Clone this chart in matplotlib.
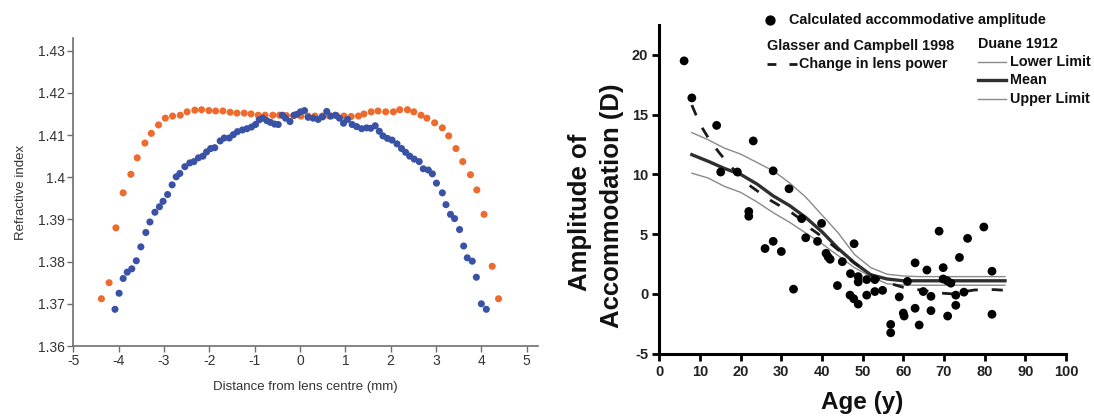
import matplotlib
matplotlib.use("Agg")
import matplotlib.pyplot as plt
from matplotlib.lines import Line2D
import numpy as np

plt.rcParams['font.family'] = ['Liberation Sans', 'DejaVu Sans']

# ---------------- Left panel: refractive index profiles ----------------
orange_x = [-4.38, -4.21, -4.06, -3.90, -3.73, -3.59, -3.42, -3.28, -3.12, -2.97,
            -2.81, -2.64, -2.49, -2.32, -2.17, -2.01, -1.86, -1.70, -1.54, -1.39,
            -1.23, -1.08, -0.92, -0.77, -0.60, -0.45, -0.30, -0.14, 0.02, 0.18,
            0.33, 0.49, 0.65, 0.81, 0.97, 1.13, 1.29, 1.41, 1.57, 1.72,
            1.89, 2.06, 2.20, 2.37, 2.51, 2.67, 2.80, 2.97, 3.14, 3.28,
            3.44, 3.59, 3.76, 3.90, 4.06, 4.24, 4.38]
orange_y = [1.3712, 1.3750, 1.3880, 1.3963, 1.4007, 1.4046, 1.4081, 1.4104, 1.4124, 1.4140,
            1.4145, 1.4147, 1.4155, 1.4159, 1.4160, 1.4158, 1.4157, 1.4157, 1.4154, 1.4152,
            1.4152, 1.4150, 1.4147, 1.4147, 1.4147, 1.4147, 1.4146, 1.4146, 1.4145, 1.4145,
            1.4145, 1.4145, 1.4145, 1.4146, 1.4145, 1.4144, 1.4145, 1.4150, 1.4155, 1.4157,
            1.4155, 1.4155, 1.4160, 1.4160, 1.4155, 1.4147, 1.4140, 1.4129, 1.4117, 1.4098,
            1.4068, 1.4037, 1.4006, 1.3970, 1.3912, 1.3789, 1.3712]

blue_x = [-4.08, -3.99, -3.90, -3.81, -3.71, -3.61, -3.51, -3.40, -3.31, -3.20,
          -3.10, -3.02, -2.92, -2.82, -2.73, -2.65, -2.54, -2.43, -2.34, -2.24,
          -2.14, -2.06, -1.97, -1.88, -1.76, -1.67, -1.56, -1.47, -1.38, -1.27,
          -1.17, -1.07, -0.98, -0.90, -0.82, -0.73, -0.65, -0.56, -0.48, -0.39,
          -0.32, -0.22, -0.13, -0.07, 0.01, 0.10, 0.18, 0.29, 0.40, 0.50,
          0.59, 0.68, 0.78, 0.87, 0.96, 1.05, 1.15, 1.25, 1.36, 1.47,
          1.56, 1.66, 1.75, 1.83, 1.93, 2.03, 2.14, 2.24, 2.33, 2.42,
          2.52, 2.63, 2.72, 2.83, 2.92, 3.01, 3.14, 3.22, 3.32, 3.41,
          3.52, 3.61, 3.69, 3.80, 3.89, 4.00, 4.11]
blue_y = [1.3687, 1.3725, 1.3760, 1.3775, 1.3783, 1.3802, 1.3835, 1.3869, 1.3894, 1.3917,
          1.3930, 1.3943, 1.3959, 1.3982, 1.4001, 1.4009, 1.4025, 1.4034, 1.4037, 1.4046,
          1.4050, 1.4060, 1.4068, 1.4070, 1.4086, 1.4093, 1.4093, 1.4101, 1.4108, 1.4112,
          1.4115, 1.4119, 1.4125, 1.4136, 1.4140, 1.4134, 1.4130, 1.4126, 1.4125, 1.4147,
          1.4140, 1.4132, 1.4147, 1.4149, 1.4155, 1.4158, 1.4142, 1.4140, 1.4137, 1.4143,
          1.4156, 1.4145, 1.4147, 1.4140, 1.4128, 1.4137, 1.4125, 1.4120, 1.4115, 1.4117,
          1.4116, 1.4122, 1.4109, 1.4098, 1.4092, 1.4088, 1.4079, 1.4068, 1.4059, 1.4050,
          1.4043, 1.4037, 1.4020, 1.4017, 1.4008, 1.3986, 1.3963, 1.3935, 1.3912, 1.3902,
          1.3876, 1.3837, 1.3809, 1.3801, 1.3763, 1.3700, 1.3687]

left_xticks = [-5, -4, -3, -2, -1, 0, 1, 2, 3, 4, 5]
left_yticks = [1.36, 1.37, 1.38, 1.39, 1.40, 1.41, 1.42, 1.43]
left_yticklabels = ['1.36', '1.37', '1.38', '1.39', '1.4', '1.41', '1.42', '1.43']

# ---------------- Right panel: amplitude of accommodation ----------------
calc_age = [6.1, 8.0, 14.1, 23.1, 15.1, 19.2, 28.0, 31.9, 22.0, 22.0,
            35.0, 39.9, 28.0, 26.0, 30.0, 36.0, 38.9, 41.0, 41.5, 42.0,
            45.0, 47.9, 33.0, 43.8, 47.0, 48.9, 48.9, 51.0, 53.0, 46.9,
            47.8, 48.9, 51.0, 53.0, 54.9, 59.0, 56.9, 56.9, 60.0, 60.2,
            61.0, 62.9, 62.9, 63.9, 64.9, 65.8, 66.8, 66.8, 68.8, 69.8,
            69.8, 70.8, 71.7, 70.9, 72.9, 72.9, 73.8, 74.9, 75.8, 79.8,
            81.8, 81.8]
calc_amp = [19.5, 16.4, 14.1, 12.8, 10.2, 10.2, 10.3, 8.8, 6.9, 6.5,
            6.3, 5.9, 4.4, 3.8, 3.55, 4.7, 4.4, 3.4, 3.1, 2.9,
            2.7, 4.2, 0.4, 0.7, 1.7, 1.45, 1.0, 1.2, 1.2, -0.1,
            -0.4, -0.85, -0.1, 0.2, 0.3, -0.25, -2.55, -3.25, -1.6, -1.85,
            1.05, 2.6, -1.2, -2.6, 0.2, 2.0, -0.2, -1.4, 5.25, 2.2,
            1.25, 1.1, 0.9, -1.85, -0.1, -0.95, 3.05, 0.15, 4.65, 5.6,
            1.9, -1.7]

duane_age = [8, 12, 16, 20, 24, 28, 32, 36, 40, 44, 48, 52, 56, 60, 64, 68, 72, 76, 80, 85]
duane_upper = [13.5, 12.9, 12.2, 11.7, 11.0, 10.3, 9.3, 8.1, 6.6, 5.1, 3.3, 2.2, 1.65, 1.5,
               1.45, 1.45, 1.45, 1.45, 1.45, 1.45]
duane_mean = [11.65, 11.1, 10.5, 10.0, 9.2, 8.2, 7.4, 6.4, 5.2, 3.8, 2.6, 1.6, 1.25, 1.1,
              1.1, 1.1, 1.1, 1.1, 1.1, 1.1]
duane_lower = [10.1, 9.7, 9.0, 8.5, 7.7, 6.8, 6.0, 5.1, 4.2, 3.2, 2.2, 1.45, 0.85, 0.75,
               0.73, 0.73, 0.73, 0.73, 0.73, 0.73]

glasser_age = [8, 10, 12.5, 15, 17.5, 20, 22.5, 25, 27.5, 30, 32.5, 35, 37.5, 40, 42.5, 45,
               47.5, 50, 52.5, 55, 57.5, 60, 62.5, 65, 67.5, 70, 72.5, 75, 77.5, 80, 82.5, 85]
glasser_power = [15.8, 14.2, 12.8, 11.7, 10.7, 9.8, 9.0, 8.4, 7.8, 7.3, 6.8, 6.2, 5.4, 4.8, 4.1, 3.4,
                 2.7, 2.1, 1.5, 1.1, 0.8, 0.55, 0.4, 0.3, 0.15, 0.05, 0.0, 0.2, 0.33, 0.36, 0.36, 0.3]

right_xticks = list(range(0, 101, 10))
right_yticks = [-5, 0, 5, 10, 15, 20]

W, H = 1094, 419
fig = plt.figure(figsize=(W / 100, H / 100), dpi=100)
fig.patch.set_facecolor('white')

def fx(px):
    return px / W

def fy(py):
    return 1 - py / H

# Left axes
axL = fig.add_axes([73.3 / W, (H - 346) / H, (538 - 73.3) / W, (346 - 38) / H])
axL.scatter(orange_x, orange_y, s=26, color='#EC6B2D', edgecolors='none', zorder=2)
axL.scatter(blue_x, blue_y, s=26, color='#3A52A5', edgecolors='none', zorder=3)
axL.set_xlim(-5, 5.25)
axL.set_ylim(1.36, 1.433)
axL.set_xticks(left_xticks)
axL.set_xticklabels([str(t) for t in left_xticks])
axL.set_yticks(left_yticks)
axL.set_yticklabels(left_yticklabels)
for side in ['top', 'right']:
    axL.spines[side].set_visible(False)
for side in ['left', 'bottom']:
    axL.spines[side].set_color('#6e6e6e')
    axL.spines[side].set_linewidth(1.2)
axL.tick_params(axis='both', colors='#6e6e6e', labelcolor='#333333', labelsize=10,
                length=4, width=1, direction='out', pad=2)
axL.set_xlabel('Distance from lens centre (mm)', fontsize=9.5, color='#333333', labelpad=9)
axL.set_ylabel('Refractive index', fontsize=9.5, color='#333333', labelpad=8)

# Right axes
axR = fig.add_axes([659.3 / W, (H - 353.7) / H, (1066 - 659.3) / W, (353.7 - 25) / H])
axR.plot(duane_age, duane_upper, color='#8a8a8a', lw=1.0, zorder=2)
axR.plot(duane_age, duane_lower, color='#8a8a8a', lw=1.0, zorder=2)
axR.plot(duane_age, duane_mean, color='#2f2f2f', lw=2.4, zorder=3)
axR.plot(glasser_age, glasser_power, color='#1a1a1a', lw=2.0, dashes=(4, 5), zorder=3)
axR.scatter(calc_age, calc_amp, s=40, color='black', edgecolors='none', zorder=4)
axR.set_xlim(0, 100)
axR.set_ylim(-5, 22.5)
axR.set_xticks(right_xticks)
axR.set_xticklabels([str(t) for t in right_xticks])
axR.set_yticks(right_yticks)
axR.set_yticklabels([str(t) for t in right_yticks])
for side in ['top', 'right']:
    axR.spines[side].set_visible(False)
for side in ['left', 'bottom']:
    axR.spines[side].set_color('black')
    axR.spines[side].set_linewidth(2.2)
axR.tick_params(axis='both', colors='black', labelsize=10.5, length=5, width=2, pad=3)
for lab in axR.get_xticklabels() + axR.get_yticklabels():
    lab.set_fontweight('bold')
    lab.set_color('#222222')
axR.set_xlabel('Age (y)', fontsize=17.5, fontweight='bold', color='#111111', labelpad=9)

# Two-line y label, placed line by line
ylab_font = dict(fontsize=18.5, fontweight='bold', color='#111111', rotation=90,
                 ha='center', va='center')
fig.text(fx(580), fy(212), 'Amplitude of', **ylab_font)
fig.text(fx(612), fy(206), 'Accommodation (D)', **ylab_font)

# Key for the right panel
leg_font = dict(fontsize=10.4, fontweight='bold', color='#111111', va='center', ha='left')
fig.add_artist(Line2D([fx(770)], [fy(20)], marker='o', markersize=6.4, color='black', lw=0))
fig.text(fx(789), fy(20), 'Calculated accommodative amplitude', **leg_font)
fig.text(fx(767), fy(46), 'Glasser and Campbell 1998', **leg_font)
fig.add_artist(Line2D([fx(767), fx(797)], [fy(64), fy(64)], color='#1a1a1a', lw=2.0,
                      dashes=(3.2, 4.7)))
fig.text(fx(799), fy(64), 'Change in lens power', **leg_font)
fig.text(fx(978), fy(44), 'Duane 1912', **leg_font)
fig.add_artist(Line2D([fx(978), fx(1006)], [fy(62), fy(62)], color='#8a8a8a', lw=1.0))
fig.text(fx(1010), fy(62), 'Lower Limit', **leg_font)
fig.add_artist(Line2D([fx(978), fx(1006)], [fy(80.5), fy(80.5)], color='#2f2f2f', lw=2.4))
fig.text(fx(1010), fy(80.5), 'Mean', **leg_font)
fig.add_artist(Line2D([fx(978), fx(1006)], [fy(99), fy(99)], color='#8a8a8a', lw=1.0))
fig.text(fx(1010), fy(99), 'Upper Limit', **leg_font)

fig.savefig('out.png', dpi=100, facecolor='white')
